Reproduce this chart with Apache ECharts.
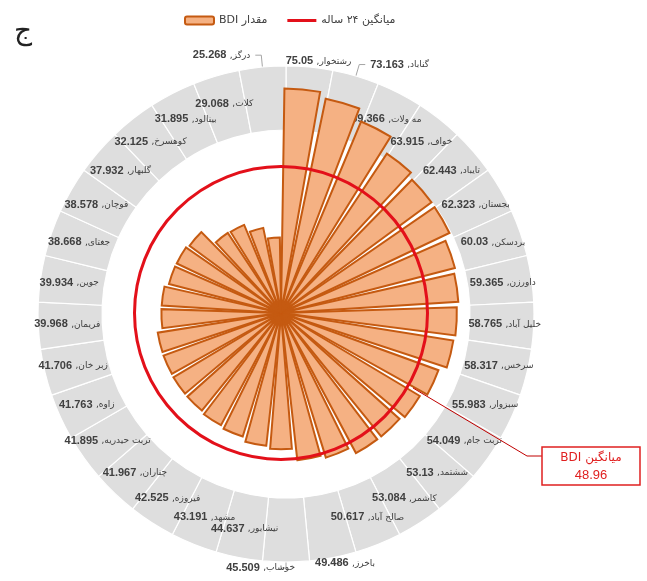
<!DOCTYPE html>
<html>
<head>
<meta charset="utf-8">
<script src="https://cdn.jsdelivr.net/npm/echarts@6/dist/echarts.min.js"></script>
<style>
html,body{margin:0;padding:0;background:#fff;}
#chart{width:647px;height:581px;}
</style>
</head>
<body>
<div id="chart"></div>
<script>
// ---- data ----
const categories = [
  'رشتخوار','گناباد','مه ولات','خواف','تایباد','بجستان','بردسکن','داورزن',
  'خلیل آباد','سرخس','سبزوار','تربت جام','ششتمد','کاشمر','صالح آباد','باخرز',
  'خوشاب','نیشابور','مشهد','فیروزه','چناران','تربت حیدریه','زاوه','زبر خان',
  'فریمان','جوین','جغتای','قوچان','گلبهار','کوهسرخ','بینالود','کلات','درگز'
];
const bdiValues = [
  75.05, 73.163, 69.366, 63.915, 62.443, 62.323, 60.03, 59.365,
  58.765, 58.317, 55.983, 54.049, 53.13, 53.084, 50.617, 49.486,
  45.509, 44.637, 43.191, 42.525, 41.967, 41.895, 41.763, 41.706,
  39.968, 39.934, 38.668, 38.578, 37.932, 32.125, 31.895, 29.068, 25.268
];
const meanBDI = 48.96;
const barName = 'مقدار BDI';
const meanName = 'میانگین ۲۴ ساله';
const outsideLabels = ['رشتخوار','گناباد','درگز','خوشاب','باخرز'];

const RED = '#e3101a';
const chart = echarts.init(document.getElementById('chart'), null, {renderer:'canvas'});

const bandData = categories.map(function(name){
  const item = {name: name, value: 1};
  if (outsideLabels.indexOf(name) >= 0) {
    const bottom = (name === 'خوشاب' || name === 'باخرز');
    item.label = {position: 'outside'};
    item.labelLine = {show: name !== 'رشتخوار', length: bottom ? 6 : 12, length2: bottom ? 6 : 6,
      lineStyle: {color: '#a6a6a6', width: 1}};
  }
  return item;
});

const option = {
  animation: false,
  backgroundColor: '#ffffff',
  legend: {
    top: 10, left: 179,
    itemWidth: 29, itemHeight: 8, itemGap: 20,
    textStyle: {fontSize: 11, color: '#404040', fontFamily: 'DejaVu Sans, Liberation Sans'},
    data: [
      {name: barName},
      {name: meanName, icon: 'path://M0,0H29V3H0Z', itemStyle: {color: RED}}
    ],
    formatter: function(n){ return n === barName ? '\u202B' + n + '\u202C' : n; }
  },
  polar: {center: [281, 313], radius: 293},
  angleAxis: {
    type: 'category', data: categories, startAngle: 90, clockwise: true,
    axisLine: {show: false}, axisTick: {show: false}, axisLabel: {show: false},
    splitLine: {show: false}, splitArea: {show: false}
  },
  radiusAxis: {
    type: 'value', min: 0, max: meanBDI * 2, interval: meanBDI, z: 10,
    axisLine: {show: false}, axisTick: {show: false}, axisLabel: {show: false},
    splitLine: {show: true, lineStyle: {color: ['rgba(0,0,0,0)', RED, 'rgba(0,0,0,0)'], width: 3}}
  },
  series: [
    {
      type: 'pie', name: 'band', center: [286, 314], radius: [184, 248],
      startAngle: 90, clockwise: true, z: 1, silent: true,
      avoidLabelOverlap: false,
      emphasis: {disabled: true},
      itemStyle: {color: '#dedede', borderColor: '#ffffff', borderWidth: 1.2},
      label: {
        show: true, position: 'inside', rotate: 0,
        formatter: function(p){ return '{n|' + bdiValues[p.dataIndex] + '} {a|,' + p.name + '}'; },
        rich: {
          n: {fontSize: 11, fontWeight: 'bold', color: '#404040', fontFamily: 'Liberation Sans, Arial'},
          a: {fontSize: 9, color: '#404040', fontFamily: 'DejaVu Sans'}
        }
      },
      labelLine: {show: false},
      labelLayout: function(p){
        const name = categories[p.dataIndex];
        if (name === 'رشتخوار') return {dx: -36, dy: 6, hideOverlap: false};
        if (name === 'خوشاب') return {dx: 20, hideOverlap: false};
        if (name === 'باخرز') return {dx: -30, hideOverlap: false};
        return {hideOverlap: false};
      },
      data: bandData
    },
    {
      type: 'bar', name: barName, coordinateSystem: 'polar', z: 3,
      barCategoryGap: '16%',
      itemStyle: {color: '#f5b183', borderColor: '#c55a11', borderWidth: 2},
      data: bdiValues
    },
    {
      type: 'line', name: meanName, coordinateSystem: 'polar', data: [],
      symbol: 'none', lineStyle: {color: RED, width: 3}, itemStyle: {color: RED}
    }
  ],
  graphic: [
    {type: 'text', left: 14, top: 18, style: {text: 'ج', fontSize: 28, fill: '#222', fontFamily: 'DejaVu Sans'}},
    {type: 'polyline', shape: {points: [[413, 388], [527, 456], [542, 456]]}, style: {stroke: '#c00000', lineWidth: 1, fill: null}, z: 20},
    {type: 'rect', shape: {x: 542, y: 447, width: 98, height: 38}, style: {fill: '#fff', stroke: '#e02020', lineWidth: 1.5}, z: 20},
    {type: 'text', x: 591, y: 458, style: {text: '\u202Bمیانگین BDI\u202C', fontSize: 12, fill: '#e02020', align: 'center', verticalAlign: 'middle', fontFamily: 'DejaVu Sans'}, z: 21},
    {type: 'text', x: 591, y: 475, style: {text: String(meanBDI), fontSize: 13, fill: '#e02020', align: 'center', verticalAlign: 'middle', fontFamily: 'Liberation Sans'}, z: 21}
  ]
};
chart.setOption(option);
</script>
</body>
</html>
